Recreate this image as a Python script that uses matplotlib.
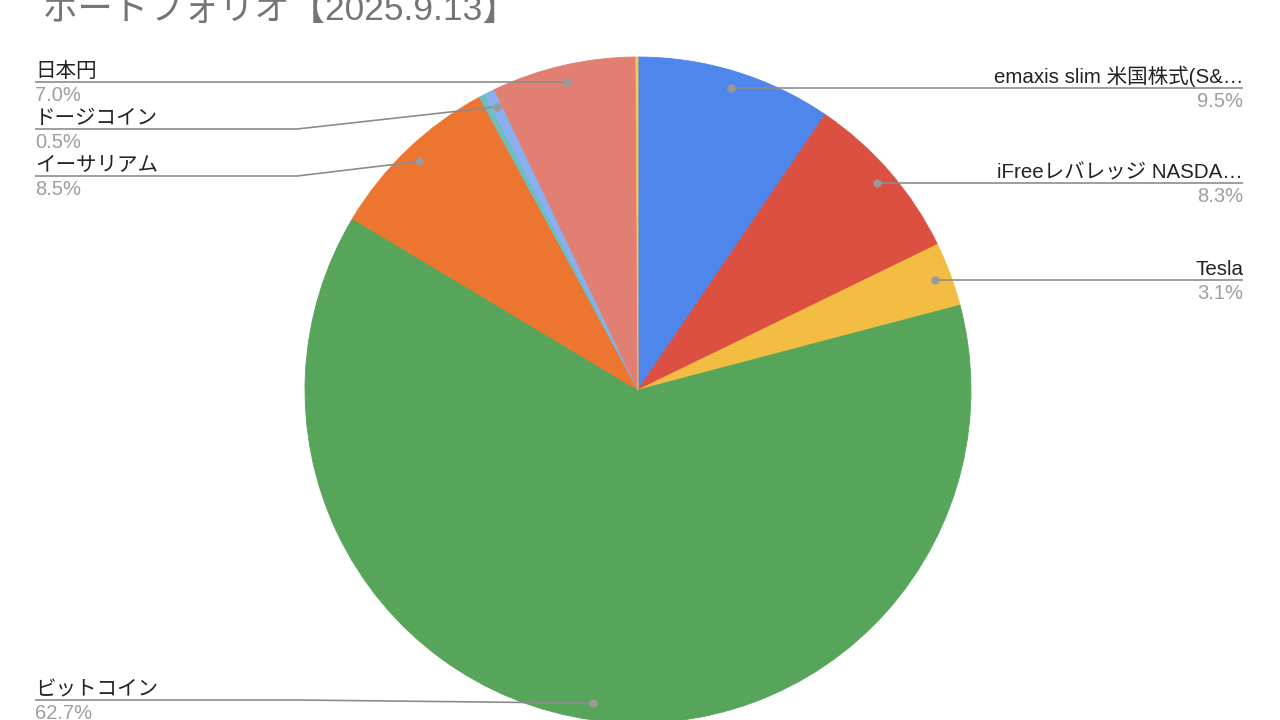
import matplotlib.pyplot as plt
import numpy as np

plt.rcParams['font.family'] = ['Liberation Sans', 'Noto Sans CJK JP']

# Portfolio slices, clockwise from 12 o'clock
labels = ['emaxis slim 米国株式(S&…', 'iFreeレバレッジ NASDA…', 'Tesla', 'ビットコイン',
          'イーサリアム', '', 'ドージコイン', '日本円', '']
values = [9.5, 8.3, 3.1, 62.7, 8.5, 0.3, 0.5, 7.0, 0.1]
colors = ['#4F86EC', '#DB5040', '#F2BD42', '#57A55A', '#EC7530',
          '#6CBEBF', '#8AB0F2', '#E17F73', '#F8CB4F']
title = 'ポートフォリオ【2025.9.13】'

# left-side labels that were pushed down to avoid overlap (pixel y, from top)
label_line_y = {'ドージコイン': 129, 'イーサリアム': 176, 'ビットコイン': 700}

W, H = 1280, 720
cx, cy, R = 638, H - 390, 333

fig = plt.figure(figsize=(W / 100, H / 100), dpi=100)
ax = fig.add_axes([0, 0, 1, 1])
wedges, _ = ax.pie(values, colors=colors, startangle=90, counterclock=False,
                   center=(cx, cy), radius=R, wedgeprops=dict(linewidth=0.6))
for w in wedges:
    w.set_edgecolor(w.get_facecolor())
ax.set_xlim(0, W)
ax.set_ylim(0, H)
ax.set_aspect('equal')
ax.axis('off')

total = sum(values)
line_kw = dict(color='#8c8c8c', linewidth=1.2, zorder=3, solid_capstyle='butt')
for w, name, v in zip(wedges, labels, values):
    if not name:
        continue
    mid = np.deg2rad((w.theta1 + w.theta2) / 2)
    dx, dy = cx + 0.95 * R * np.cos(mid), cy + 0.95 * R * np.sin(mid)
    pct = f'{v / total * 100:.1f}%'
    if np.cos(mid) > 0:
        ly = dy
        ax.plot([dx, 1243], [ly, ly], **line_kw)
        xa, ha = 1243, 'right'
    else:
        ly = H - label_line_y[name] if name in label_line_y else dy
        ax.plot([dx, 297, 35], [dy, ly, ly], **line_kw)
        xa, ha = 35, 'left'
    ax.plot(dx, dy, 'o', color='#9a9a9a', markersize=5, zorder=4)
    ax.text(xa, ly + 5, name, ha=ha, va='baseline', fontsize=14.8, color='#222222')
    ax.text(xa, ly - 4, pct, ha=ha, va='top', fontsize=14.5, color='#9e9e9e')

ax.text(43, H - 20, title, ha='left', va='baseline', fontsize=25.5, color='#757575')

fig.savefig('out.png', dpi=100)
